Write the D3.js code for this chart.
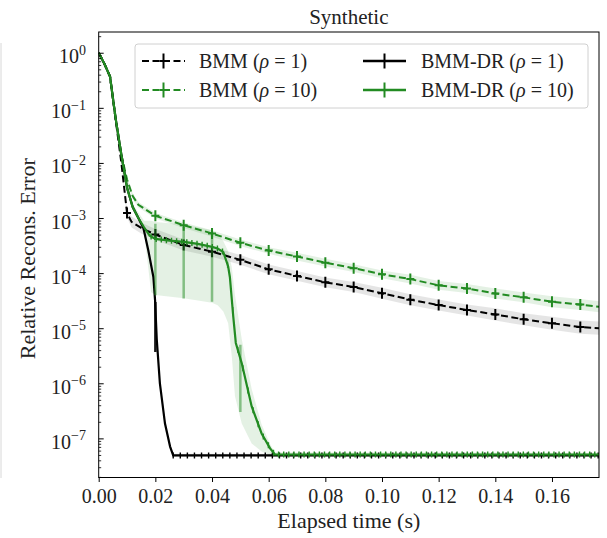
<!DOCTYPE html>
<html><head><meta charset="utf-8">
<script src="https://cdn.jsdelivr.net/npm/d3@7"></script>
<style>body{margin:0;background:#fff}</style>
</head><body>
<svg id="c" width="607" height="538"></svg>
<script>
// ---------------- data ----------------
const xTicks = [0, 0.02, 0.04, 0.06, 0.08, 0.10, 0.12, 0.14, 0.16];
const yTickExps = [0, -1, -2, -3, -4, -5, -6, -7];

// BMM (rho = 1)  black dashed
const bmm1T = [0, 0.002, 0.004, 0.006, 0.008, 0.01, 0.0116, 0.015, 0.02, 0.03, 0.04, 0.05, 0.06, 0.07, 0.08, 0.09, 0.10, 0.11, 0.12, 0.13, 0.14, 0.15, 0.16, 0.17, 0.1766];
const bmm1V = [1, 0.63, 0.37, 0.060, 0.010, 1.23e-3, 8.5e-4, 6.6e-4, 5.0e-4, 3.24e-4, 2.45e-4, 1.74e-4, 1.17e-4, 8.9e-5, 6.8e-5, 5.6e-5, 4.3e-5, 3.3e-5, 2.63e-5, 2.14e-5, 1.78e-5, 1.45e-5, 1.23e-5, 1.05e-5, 1.0e-5];
const bmm1Spread = [0.01, 0.01, 0.02, 0.03, 0.04, 0.08, 0.1, 0.1, 0.1, 0.1, 0.09, 0.09, 0.09, 0.09, 0.09, 0.09, 0.1, 0.1, 0.1, 0.1, 0.11, 0.11, 0.12, 0.12, 0.12];

// BMM (rho = 10)  green dashed
const bmm10T = [0, 0.002, 0.004, 0.006, 0.008, 0.01, 0.012, 0.014, 0.02, 0.03, 0.04, 0.05, 0.06, 0.07, 0.08, 0.09, 0.10, 0.11, 0.12, 0.13, 0.14, 0.15, 0.16, 0.17, 0.1766];
const bmm10V = [1, 0.63, 0.37, 0.063, 0.0141, 5.0e-3, 2.5e-3, 1.74e-3, 1.10e-3, 7.4e-4, 5.25e-4, 3.55e-4, 2.57e-4, 2.0e-4, 1.55e-4, 1.23e-4, 9.5e-5, 7.8e-5, 6.0e-5, 5.25e-5, 4.27e-5, 3.63e-5, 3.02e-5, 2.69e-5, 2.45e-5];
const bmm10Spread = [0.01, 0.01, 0.02, 0.03, 0.04, 0.05, 0.05, 0.05, 0.05, 0.05, 0.06, 0.06, 0.06, 0.07, 0.07, 0.07, 0.07, 0.08, 0.08, 0.08, 0.09, 0.09, 0.1, 0.1, 0.1];

// BMM-DR (rho = 1)  black solid
const dr1T = [0, 0.002, 0.004, 0.006, 0.008, 0.010, 0.012, 0.014, 0.0158, 0.0175, 0.0193, 0.0199, 0.0205, 0.0216, 0.0234, 0.0252, 0.0263, 0.1766];
const dr1V = [1, 0.63, 0.37, 0.063, 0.0141, 3.55e-3, 1.58e-3, 1.0e-3, 6.5e-4, 2.6e-4, 8.5e-5, 3.2e-5, 6.2e-6, 1.0e-6, 1.86e-7, 7.1e-8, 4.9e-8, 4.9e-8];
const dr1Spread = [0.01, 0.01, 0.02, 0.03, 0.04, 0.04, 0.05, 0.05, 0.06, 0.08, 0.1, 0.12, 0.12, 0.1, 0.08, 0.05, 0.03, 0.03];
const dr1ErrT = [0.02];
const dr1ErrLo = [3.7e-6];
const dr1ErrHi = [3.0e-5];

// BMM-DR (rho = 10)  green solid
const dr10T = [0, 0.002, 0.004, 0.006, 0.008, 0.010, 0.012, 0.014, 0.016, 0.018, 0.020, 0.025, 0.030, 0.035, 0.040, 0.042, 0.044, 0.0457, 0.0463, 0.0475, 0.0484, 0.0505, 0.054, 0.0575, 0.0605, 0.0622, 0.1766];
const dr10V = [1, 0.63, 0.37, 0.063, 0.0141, 3.55e-3, 1.58e-3, 1.0e-3, 6.8e-4, 4.8e-4, 4.17e-4, 3.9e-4, 3.7e-4, 3.4e-4, 3.0e-4, 2.8e-4, 2.4e-4, 1.32e-4, 8.5e-5, 1.62e-5, 5.4e-6, 2.3e-6, 3.8e-7, 1.23e-7, 6.6e-8, 5.1e-8, 5.1e-8];
const dr10BandT = [0, 0.004, 0.008, 0.012, 0.016, 0.0185, 0.02, 0.03, 0.04, 0.042, 0.044, 0.0457, 0.047, 0.0481, 0.0505, 0.054, 0.0575, 0.0605, 0.0622, 0.1766];
const dr10BandLo = [1, 0.355, 0.0126, 1.41e-3, 5.6e-4, 4.5e-5, 4.0e-5, 3.5e-5, 2.9e-5, 2.6e-5, 2.0e-5, 1.23e-5, 3.0e-6, 5.8e-7, 1.86e-7, 8.1e-8, 5.8e-8, 5.0e-8, 4.8e-8, 4.8e-8];
const dr10BandHi = [1, 0.39, 0.0158, 1.78e-3, 8.9e-4, 8.9e-4, 8.5e-4, 7.6e-4, 6.0e-4, 5.0e-4, 3.8e-4, 2.5e-4, 1.26e-4, 4.0e-5, 6.3e-6, 7.9e-7, 1.78e-7, 7.9e-8, 5.6e-8, 5.5e-8];
const dr10ErrT = [0.02, 0.03, 0.04, 0.05];
const dr10ErrLo = [3.98e-5, 3.47e-5, 3.02e-5, 3.0e-7];
const dr10ErrHi = [7.9e-4, 6.9e-4, 5.6e-4, 5.0e-6];

const legendLabels = [
  {name: "BMM", rho: "1"},
  {name: "BMM", rho: "10"},
  {name: "BMM-DR", rho: "1"},
  {name: "BMM-DR", rho: "10"}
];

// ---------------- styles ----------------
const GREEN = "#228b22";
const FONT = "'Liberation Serif', 'Times New Roman', serif";
const W = 607, H = 538;
const L = 98.7, R = 599, T = 32, B = 477.5;

const svg = d3.select("#c");
svg.append("rect").attr("width", W).attr("height", H).attr("fill", "#fff");

const x = d3.scaleLinear().domain([0, 0.1766]).range([L, R]);
const y = d3.scaleLog().domain([1.95e-8, 2.38]).range([B, T]);

// faint frame line at left edge of image
svg.append("line").attr("x1", 1).attr("x2", 1).attr("y1", 43).attr("y2", 478)
  .attr("stroke", "#d8d8d8").attr("stroke-width", 1);

svg.append("clipPath").attr("id", "clip").append("rect")
  .attr("x", L).attr("y", T).attr("width", R - L).attr("height", B - T);
const g = svg.append("g").attr("clip-path", "url(#clip)");

const zip = (Tt, V) => Tt.map((t, i) => [t, V[i]]);
const line = d3.line().x(d => x(d[0])).y(d => y(d[1]));
const areaSpread = d3.area().x(d => x(d[0]))
  .y0(d => y(d[1] / Math.pow(10, d[2]))).y1(d => y(d[1] * Math.pow(10, d[2])));
const areaLoHi = d3.area().x(d => x(d[0])).y0(d => y(d[1])).y1(d => y(d[2]));

function interpLog(Tt, V, t) {
  for (let i = 1; i < Tt.length; i++) {
    if (t <= Tt[i]) {
      const f = (t - Tt[i - 1]) / (Tt[i] - Tt[i - 1]);
      return Math.pow(10, Math.log10(V[i - 1]) + f * (Math.log10(V[i]) - Math.log10(V[i - 1])));
    }
  }
  return V[V.length - 1];
}

// bands
g.append("path").datum(bmm1T.map((t, i) => [t, bmm1V[i], bmm1Spread[i]]))
  .attr("d", areaSpread).attr("fill", "#000").attr("fill-opacity", 0.1);
g.append("path").datum(bmm10T.map((t, i) => [t, bmm10V[i], bmm10Spread[i]]))
  .attr("d", areaSpread).attr("fill", GREEN).attr("fill-opacity", 0.12);
g.append("path").datum(dr1T.map((t, i) => [t, dr1V[i], dr1Spread[i]]))
  .attr("d", areaSpread).attr("fill", "#000").attr("fill-opacity", 0.1);
g.append("path").datum(dr10BandT.map((t, i) => [t, dr10BandLo[i], dr10BandHi[i]]))
  .attr("d", areaLoHi).attr("fill", GREEN).attr("fill-opacity", 0.12);

// plus markers
function plus(sel, pts, color, hv, hh, sw, op) {
  const mg = sel.append("g").attr("stroke", color).attr("stroke-width", sw).attr("stroke-opacity", op || 1);
  pts.forEach(p => {
    const px = x(p[0]), py = y(p[1]);
    mg.append("line").attr("x1", px).attr("x2", px).attr("y1", py - hv).attr("y2", py + hv);
    if (hh > 0) mg.append("line").attr("x1", px - hh).attr("x2", px + hh).attr("y1", py).attr("y2", py);
  });
}
function errbars(sel, Tt, lo, hi, color, sw, op) {
  const eg = sel.append("g").attr("stroke", color).attr("stroke-width", sw).attr("stroke-opacity", op);
  Tt.forEach((t, i) => eg.append("line").attr("x1", x(t)).attr("x2", x(t)).attr("y1", y(lo[i])).attr("y2", y(hi[i])));
}
function regularMarks(Tt, V, step, offset) {
  const out = [];
  for (let k = 0; offset + k * step <= Tt[Tt.length - 1]; k++) {
    const t = offset + k * step;
    out.push([t, interpLog(Tt, V, t)]);
  }
  return out;
}

// BMM rho=1
g.append("path").datum(zip(bmm1T, bmm1V)).attr("d", line).attr("fill", "none")
  .attr("stroke", "#000").attr("stroke-width", 2).attr("stroke-dasharray", "7,3.5");
plus(g, zip(bmm1T, bmm1V).filter(d => d[0] >= 0.01 && Math.abs(d[0] * 100 - Math.round(d[0] * 100)) < 1e-6), "#000", 5.5, 4, 2);

// BMM rho=10
g.append("path").datum(zip(bmm10T, bmm10V)).attr("d", line).attr("fill", "none")
  .attr("stroke", GREEN).attr("stroke-width", 2).attr("stroke-dasharray", "7,3.5");
plus(g, zip(bmm10T, bmm10V).filter(d => d[0] >= 0.02 && Math.abs(d[0] * 100 - Math.round(d[0] * 100)) < 1e-6), GREEN, 5.5, 4, 2);

// BMM-DR rho=1
g.append("path").datum(zip(dr1T, dr1V)).attr("d", line).attr("fill", "none")
  .attr("stroke", "#000").attr("stroke-width", 2.2);
errbars(g, dr1ErrT, dr1ErrLo, dr1ErrHi, "#000", 2.5, 0.9);
plus(g, regularMarks(dr1T, dr1V, 0.0025, 0.0263), "#000", 3, 0, 1.4);

// BMM-DR rho=10
g.append("path").datum(zip(dr10T, dr10V)).attr("d", line).attr("fill", "none")
  .attr("stroke", GREEN).attr("stroke-width", 2.2);
errbars(g, dr10ErrT, dr10ErrLo, dr10ErrHi, GREEN, 2.5, 0.5);
plus(g, regularMarks(dr10T, dr10V, 0.0018, 0.0185), GREEN, 3, 0, 1.4);

// ---------------- axes ----------------
const xa = svg.append("g").attr("transform", `translate(0,${B})`)
  .call(d3.axisBottom(x).tickValues(xTicks).tickFormat(d3.format(".2f")).tickSize(4.5).tickSizeOuter(0).tickPadding(7));
xa.select(".domain").remove();
xa.selectAll("line").attr("stroke", "#000").attr("stroke-width", 1);
xa.selectAll("text").attr("font-family", FONT).attr("font-size", 20).attr("fill", "#222");

const minorVals = [];
yTickExps.concat([-8]).forEach(e => { for (let m = 2; m <= 9; m++) { const v = m * Math.pow(10, e); if (v >= 1.95e-8 && v <= 2.38) minorVals.push(v); } });
const ya = svg.append("g").attr("transform", `translate(${L},0)`)
  .call(d3.axisLeft(y).tickValues(yTickExps.map(e => Math.pow(10, e))).tickFormat("").tickSize(-5).tickSizeOuter(0));
ya.select(".domain").remove();
ya.selectAll("line").attr("stroke", "#000");
const yam = svg.append("g").attr("transform", `translate(${L},0)`)
  .call(d3.axisLeft(y).tickValues(minorVals).tickFormat("").tickSize(-2.5).tickSizeOuter(0));
yam.select(".domain").remove();
yam.selectAll("line").attr("stroke", "#000").attr("stroke-width", 0.8);

yTickExps.forEach(e => {
  const py = y(Math.pow(10, e));
  const t = svg.append("text").attr("x", 86).attr("y", py + 10.5).attr("text-anchor", "end")
    .attr("font-family", FONT).attr("font-size", 20).attr("fill", "#222").text("10");
  t.append("tspan").attr("dy", -8.5).attr("font-size", 14).text(e === 0 ? "0" : "\u2212" + (-e));
});

// spines
svg.append("rect").attr("x", L).attr("y", T).attr("width", R - L).attr("height", B - T)
  .attr("fill", "none").attr("stroke", "#000").attr("stroke-width", 1);

// labels
svg.append("text").attr("x", (L + R) / 2).attr("y", 24).attr("text-anchor", "middle")
  .attr("font-family", FONT).attr("font-size", 21).attr("fill", "#222").text("Synthetic");
svg.append("text").attr("x", (L + R) / 2).attr("y", 528).attr("text-anchor", "middle")
  .attr("font-family", FONT).attr("font-size", 22).attr("fill", "#222").text("Elapsed time (s)");
svg.append("text").attr("transform", `translate(35,${(T + B) / 2 + 4}) rotate(-90)`).attr("text-anchor", "middle")
  .attr("font-family", FONT).attr("font-size", 22).attr("fill", "#222").text("Relative Recons. Error");

// ---------------- legend ----------------
const lg = svg.append("g");
lg.append("rect").attr("x", 135).attr("y", 44).attr("width", 453).attr("height", 64).attr("rx", 3)
  .attr("fill", "#fff").attr("fill-opacity", 0.8).attr("stroke", "#d0d0d0").attr("stroke-width", 1);
const legStyles = [
  {color: "#000", dash: "7,3.5"}, {color: GREEN, dash: "7,3.5"},
  {color: "#000", dash: null}, {color: GREEN, dash: null}
];
legendLabels.forEach((d, i) => {
  const col = Math.floor(i / 2), row = i % 2;
  const hx0 = col === 0 ? 142 : 363, hx1 = hx0 + 43, tx = col === 0 ? 199 : 421;
  const cy = row === 0 ? 61 : 90;
  const st = legStyles[i];
  const ln = lg.append("line").attr("x1", hx0).attr("x2", hx1).attr("y1", cy).attr("y2", cy)
    .attr("stroke", st.color).attr("stroke-width", st.dash ? 2 : 2.5);
  if (st.dash) ln.attr("stroke-dasharray", st.dash);
  const mx = (hx0 + hx1) / 2;
  lg.append("line").attr("x1", mx).attr("x2", mx).attr("y1", cy - 7.5).attr("y2", cy + 7.5)
    .attr("stroke", st.color).attr("stroke-width", 2);
  lg.append("line").attr("x1", mx - 4).attr("x2", mx + 4).attr("y1", cy).attr("y2", cy)
    .attr("stroke", st.color).attr("stroke-width", 2);
  const t = lg.append("text").attr("x", tx).attr("y", cy + 7).attr("font-family", FONT)
    .attr("font-size", 20).attr("fill", "#222");
  t.append("tspan").text(d.name + " (");
  t.append("tspan").attr("font-style", "italic").text("\u03c1");
  t.append("tspan").text(" = " + d.rho + ")");
});
</script>
</body></html>
